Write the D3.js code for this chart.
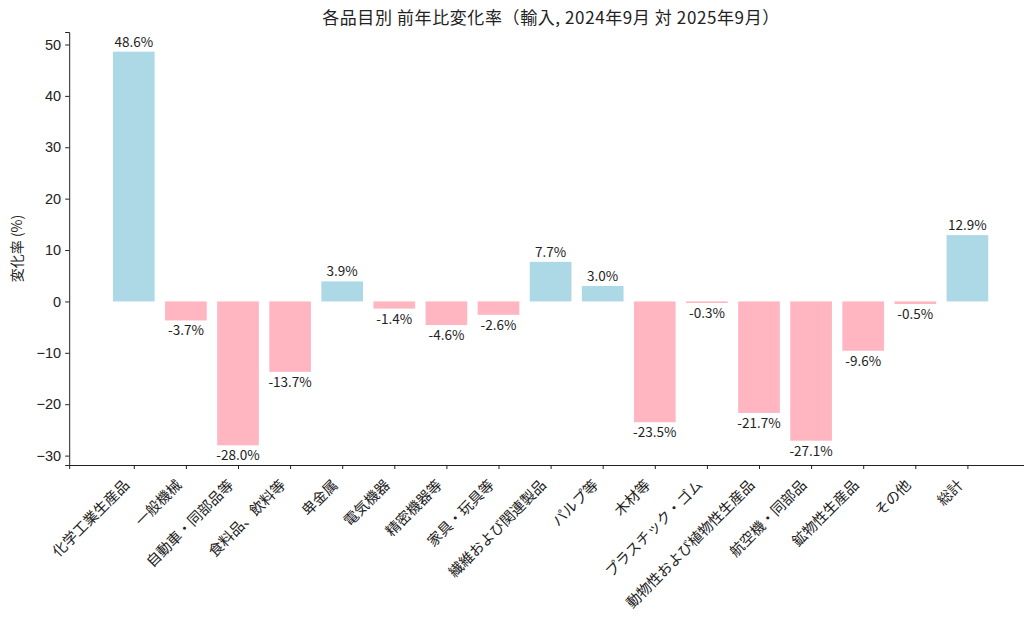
<!DOCTYPE html>
<html><head><meta charset="utf-8">
<script src="https://cdn.jsdelivr.net/npm/d3@7"></script>
<style>body{margin:0;background:#fff}text{font-family:"Noto Sans CJK JP","Noto Sans",sans-serif;fill:#222}</style>
</head><body><svg id="c" width="1024" height="618"></svg>
<script>
const categories = ["化学工業生産品","一般機械","自動車・同部品等","食料品、飲料等","卑金属","電気機器","精密機器等","家具・玩具等","繊維および関連製品","パルプ等","木材等","プラスチック・ゴム","動物性および植物性生産品","航空機・同部品","鉱物性生産品","その他","総計"];
const values = [48.6,-3.7,-28.0,-13.7,3.9,-1.4,-4.6,-2.6,7.7,3.0,-23.5,-0.3,-21.7,-27.1,-9.6,-0.5,12.9];
const yTicks = [-30,-20,-10,0,10,20,30,40,50];
const title = "各品目別 前年比変化率（輸入, 2024年9月 対 2025年9月）";
const yLabel = "変化率 (%)";

const svg = d3.select("#c");
const n = categories.length;
const T=32,B=465;
const x = d3.scaleLinear().domain([-1.24, n-1+1.24]).range([69.2,1032]);
const y = d3.scaleLinear().domain([-31.83,52.43]).range([B,T]);
const bw = x(0.8)-x(0);

svg.selectAll("rect.bar").data(values).join("rect")
  .attr("x",(d,i)=>x(i-0.4)).attr("width",bw)
  .attr("y",d=>y(Math.max(0,d))).attr("height",d=>Math.abs(y(d)-y(0)))
  .attr("fill",d=>d>=0?"#ADD8E6":"#FFB6C1");

svg.selectAll("text.val").data(values).join("text")
  .attr("x",(d,i)=>x(i)).attr("y",d=>d>=0?y(d)-5:y(d)+15)
  .attr("text-anchor","middle").attr("font-size",13.5)
  .text(d=>d.toFixed(1)+"%");

const fmt = d=>d<0?"\u2212"+Math.abs(d):String(d);
const ya = svg.append("g").attr("transform",`translate(${x.range()[0]},0)`)
  .call(d3.axisLeft(y).tickValues(yTicks).tickFormat(fmt).tickSize(4).tickPadding(4));
ya.selectAll("text").attr("font-size",14.5).style("font-family","Liberation Sans, Arial, sans-serif").attr("fill","#222");
const xa = svg.append("g").attr("transform",`translate(0,${B})`)
  .call(d3.axisBottom(x).tickValues(d3.range(n)).tickFormat(i=>categories[i]).tickSize(4).tickPadding(4));
xa.selectAll("text").attr("font-size",14.5).attr("text-anchor","end")
  .attr("x",0).attr("y",0).attr("dy",0)
  .attr("transform","translate(-4,21) rotate(-45)").attr("fill","#222");
svg.selectAll(".domain,.tick line").attr("stroke","#222");

svg.append("text").attr("x",551).attr("y",24).attr("text-anchor","middle").attr("font-size",17).attr("letter-spacing",0.6).text(title);
svg.append("text").attr("transform",`translate(22,${(T+B)/2}) rotate(-90)`).attr("text-anchor","middle").attr("font-size",14).text(yLabel);
</script></body></html>
